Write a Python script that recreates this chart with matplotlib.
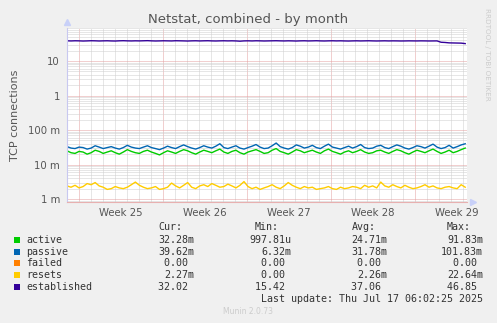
import numpy as np
import matplotlib
matplotlib.use("Agg")
import matplotlib.pyplot as plt
from matplotlib.patches import Rectangle

# values in connections (m = milli), sampled evenly over the month
active = [25, 22, 21, 24, 23, 20, 22, 26, 24, 21, 23, 25, 22, 20, 23, 27, 24, 22, 21, 24,
          26, 23, 21, 19, 22, 25, 23, 21, 24, 27, 25, 22, 20, 23, 26, 24, 22, 25, 28, 23,
          21, 24, 26, 22, 20, 23, 25, 27, 24, 21, 22, 26, 29, 24, 22, 20, 23, 27, 25, 22,
          24, 26, 23, 21, 25, 28, 24, 22, 20, 23, 25, 22, 24, 27, 23, 21, 22, 25, 26, 23,
          21, 24, 27, 25, 22, 20, 23, 26, 24, 22, 25, 28, 24, 21, 23, 26, 22, 24, 27, 30]
passive = [33, 30, 29, 32, 31, 28, 30, 35, 32, 29, 31, 33, 30, 28, 31, 36, 32, 30, 29, 32,
           35, 31, 29, 27, 30, 34, 31, 29, 33, 37, 33, 30, 28, 31, 35, 32, 30, 34, 40, 31,
           29, 32, 35, 30, 28, 31, 34, 38, 32, 29, 30, 35, 42, 33, 30, 28, 31, 37, 34, 30,
           32, 36, 31, 29, 34, 39, 32, 30, 28, 31, 34, 30, 33, 38, 31, 29, 30, 34, 36, 31,
           29, 33, 37, 34, 30, 28, 31, 35, 33, 30, 34, 39, 32, 29, 31, 36, 30, 33, 37, 40]
failed = [0.0] * 100
resets = [2.4, 2.2, 2.5, 2.1, 2.3, 2.8, 2.6, 3.0, 2.4, 2.2, 1.9, 2.0, 2.3, 2.1, 2.0, 2.2,
          2.6, 3.1, 2.5, 2.2, 2.0, 2.1, 2.3, 1.9, 2.0, 2.2, 2.9, 2.4, 2.1, 2.5, 3.0, 2.2,
          2.0, 2.4, 2.6, 2.3, 2.8, 2.5, 2.2, 2.3, 2.7, 2.4, 2.1, 2.5, 3.2, 2.3, 2.0, 2.2,
          1.9, 2.1, 2.3, 2.6, 2.2, 2.0, 2.4, 3.0, 2.5, 2.2, 2.0, 2.3, 2.1, 2.2, 1.9, 2.0,
          2.1, 2.3, 2.0, 1.9, 2.2, 2.0, 2.1, 2.3, 2.2, 2.0, 2.5, 2.2, 2.4, 2.1, 3.1, 2.4,
          2.2, 2.6, 2.3, 2.1, 2.5, 2.2, 2.0, 2.1, 2.3, 2.6, 2.2, 2.4, 2.1, 2.0, 2.2, 2.3,
          2.1, 2.0, 2.6, 2.2]
established = [38.5, 38.2, 38.6, 38.4, 38.0, 38.3, 38.7, 38.5, 38.1, 38.4, 38.6, 38.2, 38.0, 38.5,
               38.8, 38.4, 38.2, 38.5, 38.3, 38.6, 38.9, 38.4, 38.1, 38.3, 38.6, 38.4, 38.2, 38.7,
               38.5, 38.3, 38.0, 38.4, 38.6, 38.2, 38.5, 38.7, 38.3, 38.1, 38.4, 38.6, 38.3, 38.5,
               38.2, 37.6, 38.3, 38.5, 38.2, 38.6, 38.4, 38.1, 38.3, 38.5, 38.7, 38.4, 38.2, 38.5,
               38.3, 38.0, 38.4, 38.6, 38.2, 38.4, 38.7, 38.3, 38.1, 38.4, 38.6, 38.3, 38.5, 38.2,
               38.0, 38.3, 38.5, 38.2, 38.4, 38.6, 38.3, 38.1, 38.3, 38.5, 38.2, 38.4, 38.3, 38.1,
               38.2, 38.4, 38.3, 38.2, 38.4, 38.3, 38.1, 38.2, 38.3, 35.0, 34.5, 33.6, 33.4, 33.2,
               33.0, 32.0]

series = ["active", "passive", "failed", "resets", "established"]
colors = ["#00CC00", "#0066B3", "#FF8000", "#FFCC00", "#330099"]
cur = ["32.28m", "39.62m", "0.00 ", "2.27m", "32.02 "]
vmin = ["997.81u", "6.32m", "0.00 ", "0.00 ", "15.42 "]
avg = ["24.71m", "31.78m", "0.00 ", "2.26m", "37.06 "]
vmax = ["91.83m", "101.83m", "0.00 ", "22.64m", "46.85 "]

week_labels = ["Week 25", "Week 26", "Week 27", "Week 28", "Week 29"]
week_starts = [1, 8, 15, 22, 29]
ytick_vals = [1e-3, 1e-2, 1e-1, 1, 10]
ytick_labels = ["1 m", "10 m", "100 m", "1", "10"]

W, H = 497, 323
fig = plt.figure(figsize=(W / 100, H / 100), dpi=100, facecolor="#F0F0F0")
ax = fig.add_axes([67 / W, 1 - 202 / H, 400 / W, 174 / H])
ax.set_facecolor("white")

x = np.linspace(0, 33.2, 100)
data = [np.array(active) / 1000, np.array(passive) / 1000, np.array(failed),
        np.array(resets) / 1000, np.array(established)]
for name, vals, c in zip(series, data, colors):
    if name == "failed":
        continue  # all zero, not visible on log axis
    ax.plot(x, vals, color=c, lw=1.0)

ax.set_yscale("log")
ax.set_ylim(8.2e-4, 90.6)
ax.set_xlim(0, 33.35)

# grid: minor gray, major red, 1px dots
dot = (0, (1, 1))
glw = 0.72
for d in range(1, 34):
    if d in week_starts:
        ax.axvline(d, color="#e4a0a0", lw=glw, ls=dot, zorder=0)
    else:
        ax.axvline(d, color="#cfcfcf", lw=glw, ls=dot, zorder=0)
for e in range(-4, 2):
    for k in range(1, 10):
        v = k * 10.0 ** e
        if k == 1:
            ax.axhline(v, color="#e4a0a0", lw=glw, ls=dot, zorder=0)
        else:
            ax.axhline(v, color="#cfcfcf", lw=glw, ls=dot, zorder=0)

ax.set_yticks(ytick_vals)
ax.set_yticklabels(ytick_labels)
ax.yaxis.set_minor_locator(plt.NullLocator())
ax.set_xticks([d + 3.5 for d in week_starts])
ax.set_xticklabels(week_labels)
ax.tick_params(length=0, labelsize=7.3, colors="#555555", pad=5)
ax.tick_params(axis="x", pad=4)

for s in ["top", "right"]:
    ax.spines[s].set_visible(False)
ax.spines["left"].set_color("#c8c8f0")
ax.spines["bottom"].set_color("#e8b0b0")
ax.spines["left"].set_linewidth(0.8)
ax.spines["bottom"].set_linewidth(0.8)
ax.plot([0], [1.035], marker="^", ms=5, color="#c8d0f8", transform=ax.transAxes, clip_on=False)
ax.plot([1.015], [0], marker=">", ms=5, color="#c8d0f8", transform=ax.transAxes, clip_on=False)

ax.set_ylabel("TCP connections", fontsize=8, color="#555555", labelpad=6)

fig.text(248 / W, 1 - 19 / H, "Netstat, combined - by month", ha="center", va="center",
         fontsize=9.5, color="#555555")
fig.text(487 / W, 1 - 8 / H, "RRDTOOL / TOBI OETIKER", rotation=270, ha="center", va="top",
         fontsize=5.2, color="#cccccc")

# legend block
mono = "DejaVu Sans Mono"
fs = 7.2
tc = "#333333"
header_y = 227
for lbl, hx in zip(["Cur:", "Min:", "Avg:", "Max:"], [158, 255, 352, 447]):
    fig.text(hx / W, 1 - header_y / H, lbl, family=mono, fontsize=fs, color=tc, va="center")
rows_y = [240, 252, 263, 275, 287]
for i, name in enumerate(series):
    yy = 1 - rows_y[i] / H
    fig.patches.append(Rectangle((14 / W, yy - 3 / H), 6 / W, 6 / H, transform=fig.transFigure,
                                 facecolor=colors[i], edgecolor="none"))
    fig.text(26 / W, yy, name, family=mono, fontsize=fs, color=tc, va="center")
    for col, rx in zip([cur, vmin, avg, vmax], [194, 291, 387, 483]):
        fig.text(rx / W, yy, col[i], family=mono, fontsize=fs, color=tc, va="center", ha="right")
fig.text(483 / W, 1 - 299 / H, "Last update: Thu Jul 17 06:02:25 2025", family=mono,
         fontsize=fs, color=tc, va="center", ha="right")
fig.text(248 / W, 1 - 312 / H, "Munin 2.0.73", ha="center", va="center", fontsize=5.5,
         color="#cccccc")

fig.savefig("out.png", dpi=100, facecolor=fig.get_facecolor())
